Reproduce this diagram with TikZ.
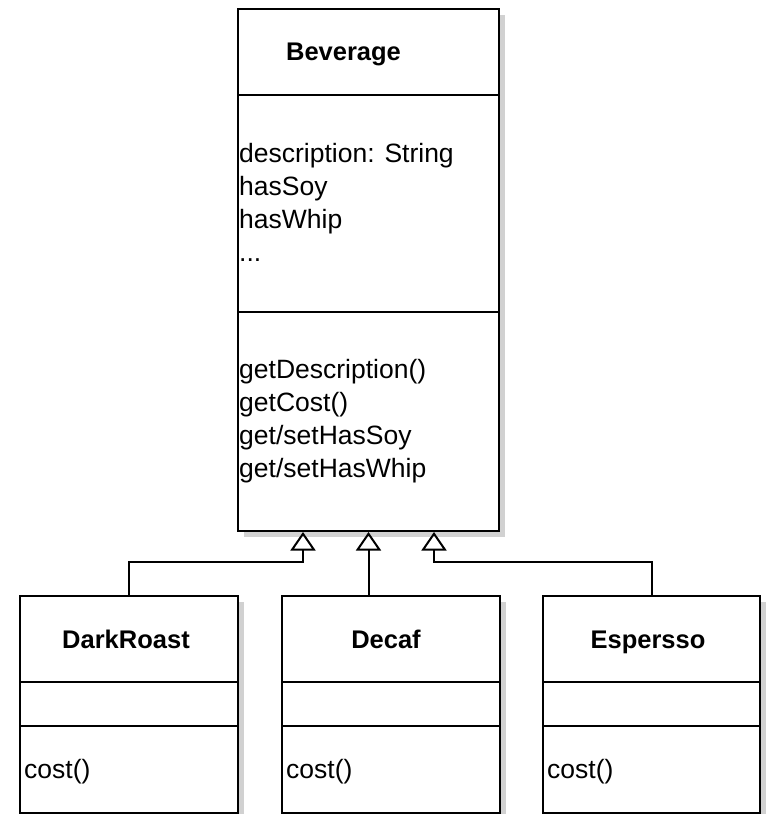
\documentclass[tikz,border=0pt]{standalone}
\usepackage{fontspec}
\setmainfont{Liberation Sans}
\usetikzlibrary{arrows.meta,shadows}
\begin{document}
\begin{tikzpicture}[x=1pt,y=-1pt,
  cls/.style={draw=black, line width=2pt, fill=white, rectangle, inner sep=0pt, anchor=north west,
    drop shadow={shadow xshift=6pt, shadow yshift=-6pt, fill=black!18, opacity=1}},
  ttl/.style={font=\fontsize{25.5}{30}\selectfont\bfseries, anchor=base, inner sep=0pt},
  txt/.style={font=\fontsize{26.5}{33}\selectfont, anchor=base west, inner sep=0pt},
  sep/.style={line width=2pt},
  inh/.style={line width=2pt, -{Triangle[open, length=18.5pt, width=25pt, line width=2pt]}}]
\useasboundingbox (0,0) rectangle (766,814);
% Beverage
\node[cls, minimum width=261pt, minimum height=522pt] (bev) at (237,8) {};
\draw[sep] ([yshift=-87pt]bev.north west) -- ([yshift=-87pt]bev.north east);
\draw[sep] ([yshift=-304pt]bev.north west) -- ([yshift=-304pt]bev.north east);
\node[ttl] (bevt) at (343.5,60) {Beverage};
\node[txt] (a1) at (239,162) {description: String};
\node[txt] (a2) at (239,195) {hasSoy};
\node[txt] (a3) at (239,228) {hasWhip};
\node[txt] (a4) at (239,261) {...};
\node[txt] (m1) at (239,378) {getDescription()};
\node[txt] (m2) at (239,411) {getCost()};
\node[txt] (m3) at (239,444) {get/setHasSoy};
\node[txt] (m4) at (239,477) {get/setHasWhip};
% children
\node[cls, minimum width=218pt, minimum height=217pt] (dr) at (19,595) {};
\node[cls, minimum width=218pt, minimum height=217pt] (dc) at (281,595) {};
\node[cls, minimum width=217pt, minimum height=217pt] (es) at (542,595) {};
\foreach \n in {dr,dc,es}{
  \draw[sep] ([yshift=-87pt]\n.north west) -- ([yshift=-87pt]\n.north east);
  \draw[sep] ([yshift=-131pt]\n.north west) -- ([yshift=-131pt]\n.north east);
}
\node[ttl] (drt) at (126,648) {DarkRoast};
\node[ttl] (dct) at (386,648) {Decaf};
\node[ttl] (est) at (648,648) {Espersso};
\node[txt] (drc) at (24,778) {cost()};
\node[txt] (dcc) at (286,778) {cost()};
\node[txt] (esc) at (547,778) {cost()};
% inheritance
\draw[inh] (dr.north) -- ++(0,-33) -| ([xshift=-65.5pt]bev.south);
\draw[inh] (bev.south |- dc.north) -- (bev.south);
\draw[inh] (es.north) -- ++(0,-33) -| ([xshift=65.5pt]bev.south);
\end{tikzpicture}
\end{document}
